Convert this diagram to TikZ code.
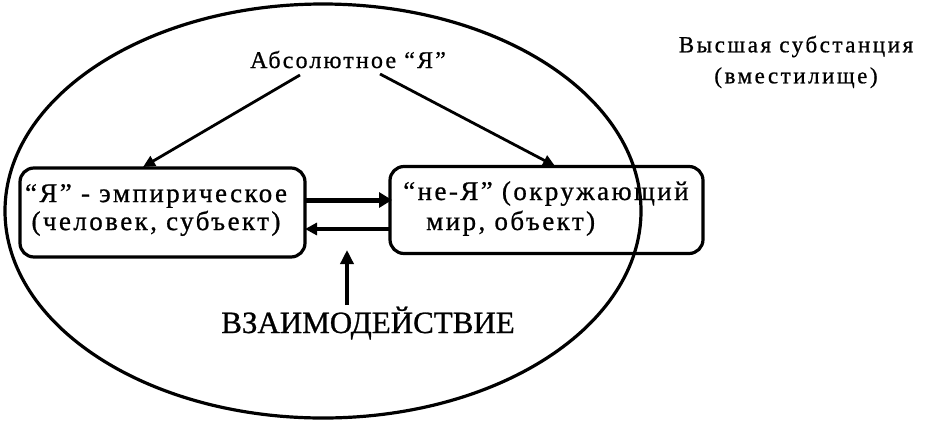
\documentclass[tikz,border=0pt]{standalone}
\usepackage{fontspec}
\setmainfont[FakeBold=0.8]{Liberation Serif}
\newfontfamily\widefont[LetterSpace=9,FakeBold=0.8]{Liberation Serif}
\newfontfamily\widerfont[LetterSpace=11,FakeBold=0.8]{Liberation Serif}
\usetikzlibrary{arrows.meta,shapes.geometric}
\begin{document}
\begin{tikzpicture}[x=1pt,y=-1pt,
  txt/.style={inner sep=0pt, align=center},
  boxtxt/.style={txt, font=\widefont\fontsize{27}{28}\selectfont},
  boxn/.style={draw, line width=3.2pt, rounded corners=14pt, inner sep=0pt},
  conn/.style={line width=2.8pt, -{Triangle[length=12pt,width=11pt]}},
  lw/.style={line width=3.2pt}]
\useasboundingbox (0,0) rectangle (931,424);
\node[draw, lw, ellipse, minimum width=636pt, minimum height=414pt, inner sep=0pt] (ell) at (323,211) {};
\node[txt, anchor=base, font=\widefont\fontsize{24}{24}\selectfont] (abs) at (348,68) {Абсолютное “Я”};
\node[txt, font=\widerfont\fontsize{23}{31}\selectfont] (sub) at (796,62) {Высшая субстанция\\(вместилище)};
\node[boxn, minimum width=285pt, minimum height=89pt] (L) at (162.5,212.5) {};
\node[boxtxt] (Lt) at (156,210) {“Я” - эмпирическое\\(человек, субъект)};
\node[boxn, minimum width=313pt, minimum height=87pt] (R) at (546.5,210) {};
\node[inner sep=0pt, anchor=west, font=\widefont\fontsize{27}{30}\selectfont] (Rt) at (403,209) {\begin{tabular}{@{}l@{}}“не-Я” (окружающий\\\hspace*{23pt}мир, объект)\end{tabular}};
\node[txt, anchor=base, font=\fontsize{31}{31}\selectfont] (vz) at (368,333) {ВЗАИМОДЕЙСТВИЕ};
\coordinate (a1) at (300,75);
\coordinate (a2) at (380,74);
\coordinate (l1) at (306,200);
\coordinate (r1) at (392,200);
\coordinate (l2) at (305,229);
\coordinate (r2) at (390,229);
\coordinate (u1) at (347,305);
\coordinate (u2) at (347,250);
\draw[conn] (a1) -- (143,167);
\draw[conn] (a2) -- (555,166);
\draw[line width=5pt, -{Triangle[length=13pt,width=15pt]}] (l1) -- (r1);
\draw[line width=3.4pt, -{Triangle[length=12pt,width=12pt]}] (r2) -- (l2);
\draw[line width=3.4pt, -{Triangle[length=14pt,width=13pt]}] (u1) -- (u2);
\end{tikzpicture}
\end{document}
